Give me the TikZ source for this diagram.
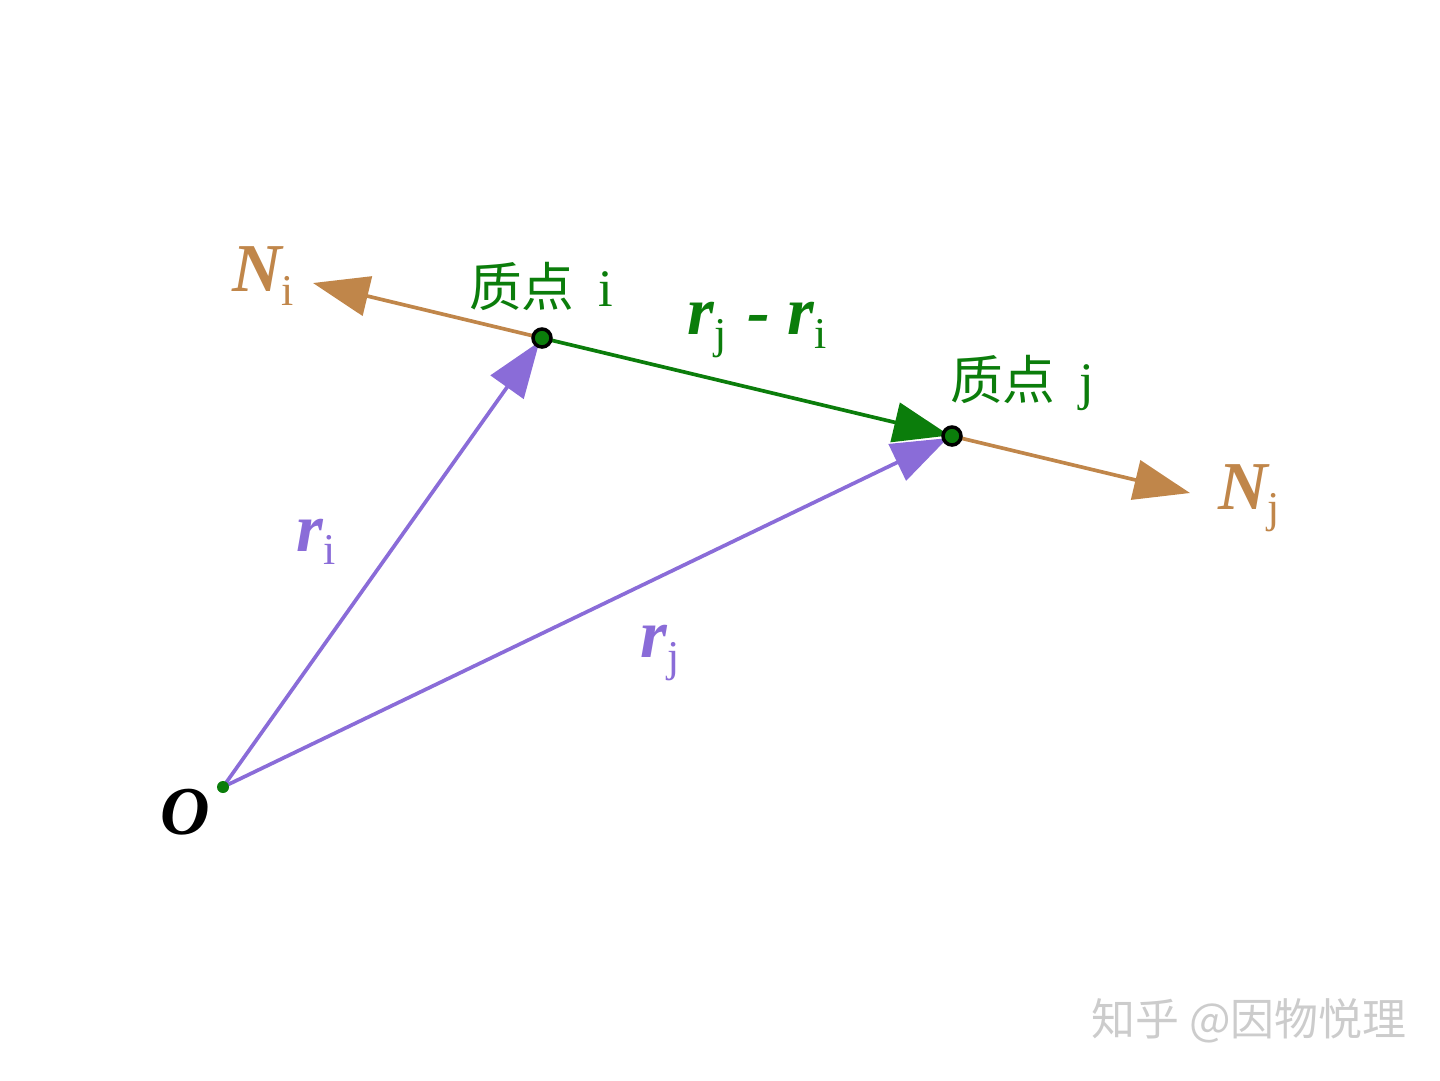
\documentclass[tikz,border=0pt]{standalone}
\usepackage{fontspec}
\setmainfont{Liberation Serif}
\newfontfamily\cjk{Noto Sans CJK SC}
\usetikzlibrary{arrows.meta,calc}
\definecolor{brn}{HTML}{C0864A}
\definecolor{grn}{HTML}{0B7D0B}
\definecolor{prp}{HTML}{8A6CD8}
\definecolor{wmk}{HTML}{CCCCCC}
\newcommand{\bigit}[1]{{\fontsize{39}{40}\selectfont\bfseries\itshape #1}}
\newcommand{\subsc}[1]{{\fontsize{25}{26}\selectfont\raisebox{-0.3em}{#1}}}
\newcommand{\zh}[1]{{\cjk #1}}
\begin{document}
\begin{tikzpicture}[x=0.02cm,y=-0.02cm,
  vec/.style={line width=2.1pt},
  tipA/.style={-{Triangle[length=1.12cm,width=0.8cm]}},
  pt/.style={circle,draw=black,fill=grn,line width=2pt,minimum size=0.36cm,inner sep=0pt},
  opt/.style={circle,fill=grn,minimum size=0.24cm,inner sep=0pt},
  lbl/.style={inner sep=0pt,anchor=center},
  cn/.style={lbl,text=grn,font=\fontsize{30}{32}\selectfont}]
\useasboundingbox (0,0) rectangle (1440,1080);
% points (as coordinates for connectors)
\coordinate (O) at (223,787);
\coordinate (I) at (542,338);
\coordinate (J) at (952,436);
\coordinate (Ni) at (313,283);
\coordinate (Nj) at (1190,493);
% vectors
\draw[vec,prp,tipA] (O) -- ($(I)!0.008!(O)$);
\draw[vec,prp,tipA] (O) -- ($(J)!0.006!(O)$);
\draw[vec,grn,tipA] (I) -- ($(J)!0.006!(I)$);
\draw[vec,brn,tipA] (I) -- (Ni);
\draw[vec,brn,tipA] (J) -- (Nj);
% point markers
\node[pt] (pi) at (I) {};
\node[pt] (pj) at (J) {};
\node[opt] (po) at (O) {};
% labels
\node[lbl,text=brn] (lNi) at (263,276) {\bigit{N}\subsc{i}};
\node[lbl,text=brn] (lNj) at (1249,498) {\bigit{N}\subsc{j}};
\node[cn] (li) at (541,286) {\zh{质点}\hspace{0.45em}i};
\node[cn] (lj) at (1022,383) {\zh{质点}\hspace{0.45em}j};
\node[lbl,text=grn] (lrr) at (757,330) {\bigit{r}\subsc{j}\hspace{12pt}\bigit{-}\hspace{10pt}\bigit{r}\subsc{i}};
\node[lbl,text=prp] (lri) at (316,542) {\bigit{r}\subsc{i}};
\node[lbl,text=prp] (lrj) at (660,653) {\bigit{r}\subsc{j}};
\node[lbl] (lO) at (185,812) {\bigit{O}};
\node[lbl,text=wmk,font=\cjk\fontsize{25}{27}\selectfont] (wm) at (1249,1021) {知乎 @因物悦理};
\end{tikzpicture}
\end{document}
